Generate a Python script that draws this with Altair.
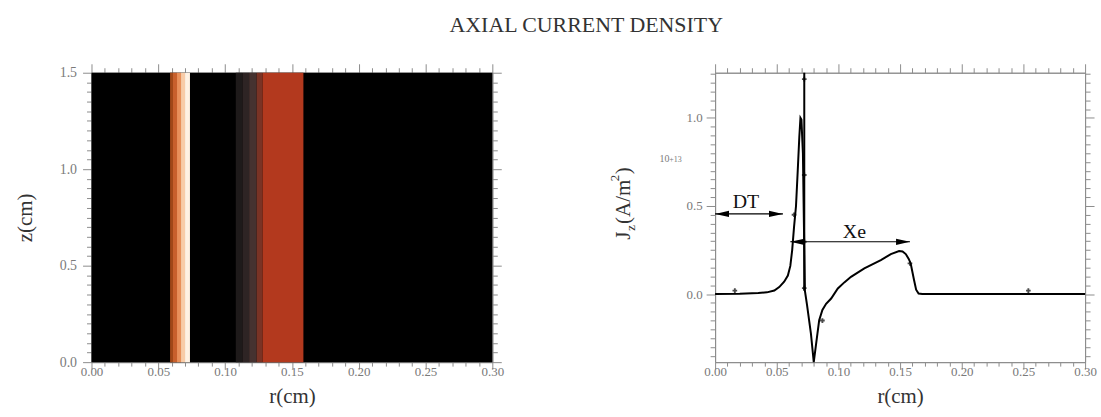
import altair as alt
import pandas as pd

# ---------------- data ----------------
# right panel: axial current density profile J_z(r) in units of 1e13 A/m^2
r_curve = [0.000, 0.020, 0.035, 0.042, 0.048, 0.052, 0.056, 0.059, 0.061, 0.0625,
           0.064, 0.0656, 0.067, 0.0683, 0.0692, 0.0700, 0.0712, 0.0720, 0.0728,
           0.0745, 0.0777, 0.0800, 0.0825, 0.0844, 0.0870, 0.0900, 0.0941, 0.0995,
           0.1050, 0.1102, 0.1210, 0.1344, 0.1425, 0.1492, 0.1520, 0.1546, 0.1570,
           0.1586, 0.1613, 0.1630, 0.1650, 0.1680, 0.3000]
j_curve = [0.000, 0.002, 0.006, 0.010, 0.020, 0.040, 0.070, 0.105, 0.160, 0.250,
           0.380, 0.500, 0.700, 0.894, 1.000, 0.990, 0.800, 0.400, 0.020,
           -0.060, -0.224, -0.386, -0.250, -0.148, -0.090, -0.055, -0.025, 0.032,
           0.068, 0.098, 0.146, 0.193, 0.227, 0.244, 0.242, 0.227, 0.200,
           0.174, 0.080, 0.025, 0.003, 0.000, 0.000]

spike_r = [0.0723]
spike_lo = [0.02]
spike_hi = [1.256]

marker_r = [0.016, 0.064, 0.0723, 0.0723, 0.0723, 0.0723, 0.087, 0.158, 0.254]
marker_j = [0.02, 0.45, 1.22, 0.676, 0.297, 0.034, -0.15, 0.174, 0.02]

arrow_name = ["DT", "Xe"]
arrow_r0 = [0.0, 0.061]
arrow_r1 = [0.055, 0.158]
arrow_j = [0.455, 0.297]
label_r = [0.025, 0.113]
label_j = [0.52, 0.354]

# left panel: colour map of J_z(r, z) (uniform in z)
heat_r0 = [0.0588, 0.0610, 0.0640, 0.0670, 0.0700, 0.1080, 0.1130, 0.1180, 0.1236, 0.1280]
heat_r1 = [0.0610, 0.0640, 0.0670, 0.0700, 0.0737, 0.1130, 0.1180, 0.1236, 0.1280, 0.1586]
heat_val = [0.30, 0.45, 0.60, 0.80, 1.00, 0.03, 0.06, 0.10, 0.15, 0.22]
z_lo = [0.0]
z_hi = [1.5]

color_stops = [0, 0.03, 0.06, 0.10, 0.15, 0.22, 0.30, 0.45, 0.60, 0.80, 1.00]
color_hex = ["#000000", "#1e1a1a", "#2e2424", "#463230", "#7a3325", "#b3391e",
             "#a04818", "#c8602c", "#e8905a", "#f8cca8", "#fff2e4"]

R_DOMAIN = [0.0, 0.30]
Z_DOMAIN = [0.0, 1.5]
J_DOMAIN = [-0.386, 1.256]

x_ticks = [round(0.01 * i, 2) for i in range(31)]
z_ticks = [round(0.05 * i, 2) for i in range(31)]
j_ticks = [round(-0.35 + 0.05 * i, 2) for i in range(33)]

# ---------------- styling helpers ----------------
SERIF = "Liberation Serif"
TICK_C = "#8c8c8c"
LAB_C = "#7a7a7a"
TITLE_C = "#333333"
MAJOR_X = "abs(datum.value*20 - round(datum.value*20)) < 0.001"
MAJOR_Y = "abs(datum.value*2 - round(datum.value*2)) < 0.001"


def make_axis(orient, values, major, fmt=None, title=None, label_test=None, lsize=13,
              big=9, small=5, lpad=4, tpad=12):
    kw = dict(
        orient=orient, values=values, grid=False,
        tickSize={"condition": {"test": major, "value": big}, "value": small},
        tickColor=TICK_C, tickWidth=1, domainColor=TICK_C,
        labelOverlap=False, labelFlush=False,
        labelFont=SERIF, labelFontSize=lsize, labelColor=LAB_C, labelPadding=lpad,
        title=title,
    )
    if fmt is None:
        kw["labels"] = False
    else:
        test = major if label_test is None else f"({major}) && ({label_test})"
        kw["labelExpr"] = f"({test}) ? format(datum.value, '{fmt}') : ''"
    if title:
        kw.update(titleFont=SERIF, titleFontSize=21, titleFontWeight="normal",
                  titleColor=TITLE_C, titlePadding=tpad)
    return alt.Axis(**kw)


def bottom_axis():
    return make_axis("bottom", x_ticks, MAJOR_X, ".2f", "r(cm)", big=7, small=4,
                     lpad=-4, tpad=8)


rs = alt.Scale(domain=R_DOMAIN, nice=False, zero=False)
zs = alt.Scale(domain=Z_DOMAIN, nice=False, zero=False)
js = alt.Scale(domain=J_DOMAIN, nice=False, zero=False)

# ---------------- left panel ----------------
bg_df = pd.DataFrame({"r0": [R_DOMAIN[0]], "r1": [R_DOMAIN[1]], "z0": z_lo, "z1": z_hi})
heat_df = pd.DataFrame({"r0": heat_r0, "r1": heat_r1, "v": heat_val,
                        "z0": z_lo * len(heat_r0), "z1": z_hi * len(heat_r0)})

zaxis = make_axis("left", z_ticks, MAJOR_Y, ".1f", "z(cm)", lsize=14, lpad=6, tpad=24)

bg = alt.Chart(bg_df).mark_rect(color="black").encode(
    x=alt.X("r0:Q", scale=rs, axis=make_axis("top", x_ticks, MAJOR_X)),
    x2="r1:Q",
    y=alt.Y("z0:Q", scale=zs, axis=make_axis("right", z_ticks, MAJOR_Y)),
    y2="z1:Q",
)
heat = alt.Chart(heat_df).mark_rect(strokeWidth=0).encode(
    x=alt.X("r0:Q", scale=rs, axis=bottom_axis()),
    x2="r1:Q",
    y=alt.Y("z0:Q", scale=zs, axis=zaxis),
    y2="z1:Q",
    color=alt.Color("v:Q", scale=alt.Scale(domain=color_stops, range=color_hex,
                                          interpolate="rgb"), legend=None),
)
left = alt.layer(bg, heat).properties(width=403, height=291)

# ---------------- right panel ----------------
curve_df = pd.DataFrame({"r": r_curve, "j": j_curve})
spike_df = pd.DataFrame({"r": spike_r, "lo": spike_lo, "hi": spike_hi})
marker_df = pd.DataFrame({"r": marker_r, "j": marker_j})
arrow_df = pd.DataFrame({"name": arrow_name, "r0": arrow_r0, "r1": arrow_r1, "j": arrow_j,
                         "lr": label_r, "lj": label_j})

line = alt.Chart(curve_df).mark_line(color="black", strokeWidth=2).encode(
    x=alt.X("r:Q", scale=rs, axis=bottom_axis()),
    y=alt.Y("j:Q", scale=js, axis=make_axis("left", j_ticks, MAJOR_Y, ".1f", None,
                                            "datum.value > -0.01")),
)
markers = alt.Chart(marker_df).mark_point(shape="cross", filled=True, color="black",
                                          size=22).encode(
    x=alt.X("r:Q", scale=rs, axis=make_axis("top", x_ticks, MAJOR_X)),
    y=alt.Y("j:Q", scale=js, axis=make_axis("right", j_ticks, MAJOR_Y)),
)
spike = alt.Chart(spike_df).mark_rule(color="black", strokeWidth=2).encode(
    x=alt.X("r:Q", scale=rs, axis=None), y=alt.Y("lo:Q", scale=js, axis=None), y2="hi:Q")
arrows = alt.Chart(arrow_df).mark_rule(color="black", strokeWidth=1.2).encode(
    x=alt.X("r0:Q", scale=rs, axis=None), x2="r1:Q", y=alt.Y("j:Q", scale=js, axis=None))
head_r = alt.Chart(arrow_df).mark_point(shape="M0,0 L-2,-0.45 L-2,0.45 Z", filled=True,
                                        color="black", opacity=1, size=196).encode(
    x=alt.X("r1:Q", scale=rs, axis=None), y=alt.Y("j:Q", scale=js, axis=None))
head_l = alt.Chart(arrow_df).mark_point(shape="M0,0 L2,-0.45 L2,0.45 Z", filled=True,
                                        color="black", opacity=1, size=196).encode(
    x=alt.X("r0:Q", scale=rs, axis=None), y=alt.Y("j:Q", scale=js, axis=None))
labels = alt.Chart(arrow_df).mark_text(font=SERIF, fontSize=20, color="#111",
                                       baseline="middle").encode(
    x=alt.X("lr:Q", scale=rs, axis=None), y=alt.Y("lj:Q", scale=js, axis=None),
    text="name:N")

one = pd.DataFrame({"k": [0]})


def side_text(txt, x, y, size):
    return alt.Chart(one).mark_text(text=txt, font=SERIF, fontSize=size, color=TITLE_C,
                                    angle=270, align="left", baseline="middle").encode(
        x=alt.value(x), y=alt.value(y))


ytitle = [
    side_text("J", -92, 168, 21),
    side_text("z", -85, 159, 13),
    side_text("(A/m", -92, 152, 21),
    side_text("2", -101, 109, 13),
    side_text(")", -92, 102, 21),
]
exponent = [
    alt.Chart(one).mark_text(text="10", font=SERIF, fontSize=10, color=LAB_C,
                             align="right", baseline="middle").encode(
        x=alt.value(-46), y=alt.value(87)),
    alt.Chart(one).mark_text(text="+13", font=SERIF, fontSize=8, color=LAB_C,
                             align="left", baseline="middle").encode(
        x=alt.value(-46), y=alt.value(88)),
]

right = alt.layer(line, markers, spike, arrows, head_r, head_l, labels,
                  *ytitle, *exponent).properties(width=372, height=291)

chart = alt.hconcat(left, right, spacing=104).properties(
    title=alt.TitleParams("AXIAL CURRENT DENSITY", font=SERIF, fontSize=22,
                          fontWeight="normal", color=TITLE_C, anchor="middle",
                          offset=26, dx=31),
    padding={"left": 14, "top": 13, "right": 4, "bottom": 2},
    background="white",
).configure_view(stroke=TICK_C)

chart.save("out.html", embed_options={"renderer": "svg", "actions": False})
